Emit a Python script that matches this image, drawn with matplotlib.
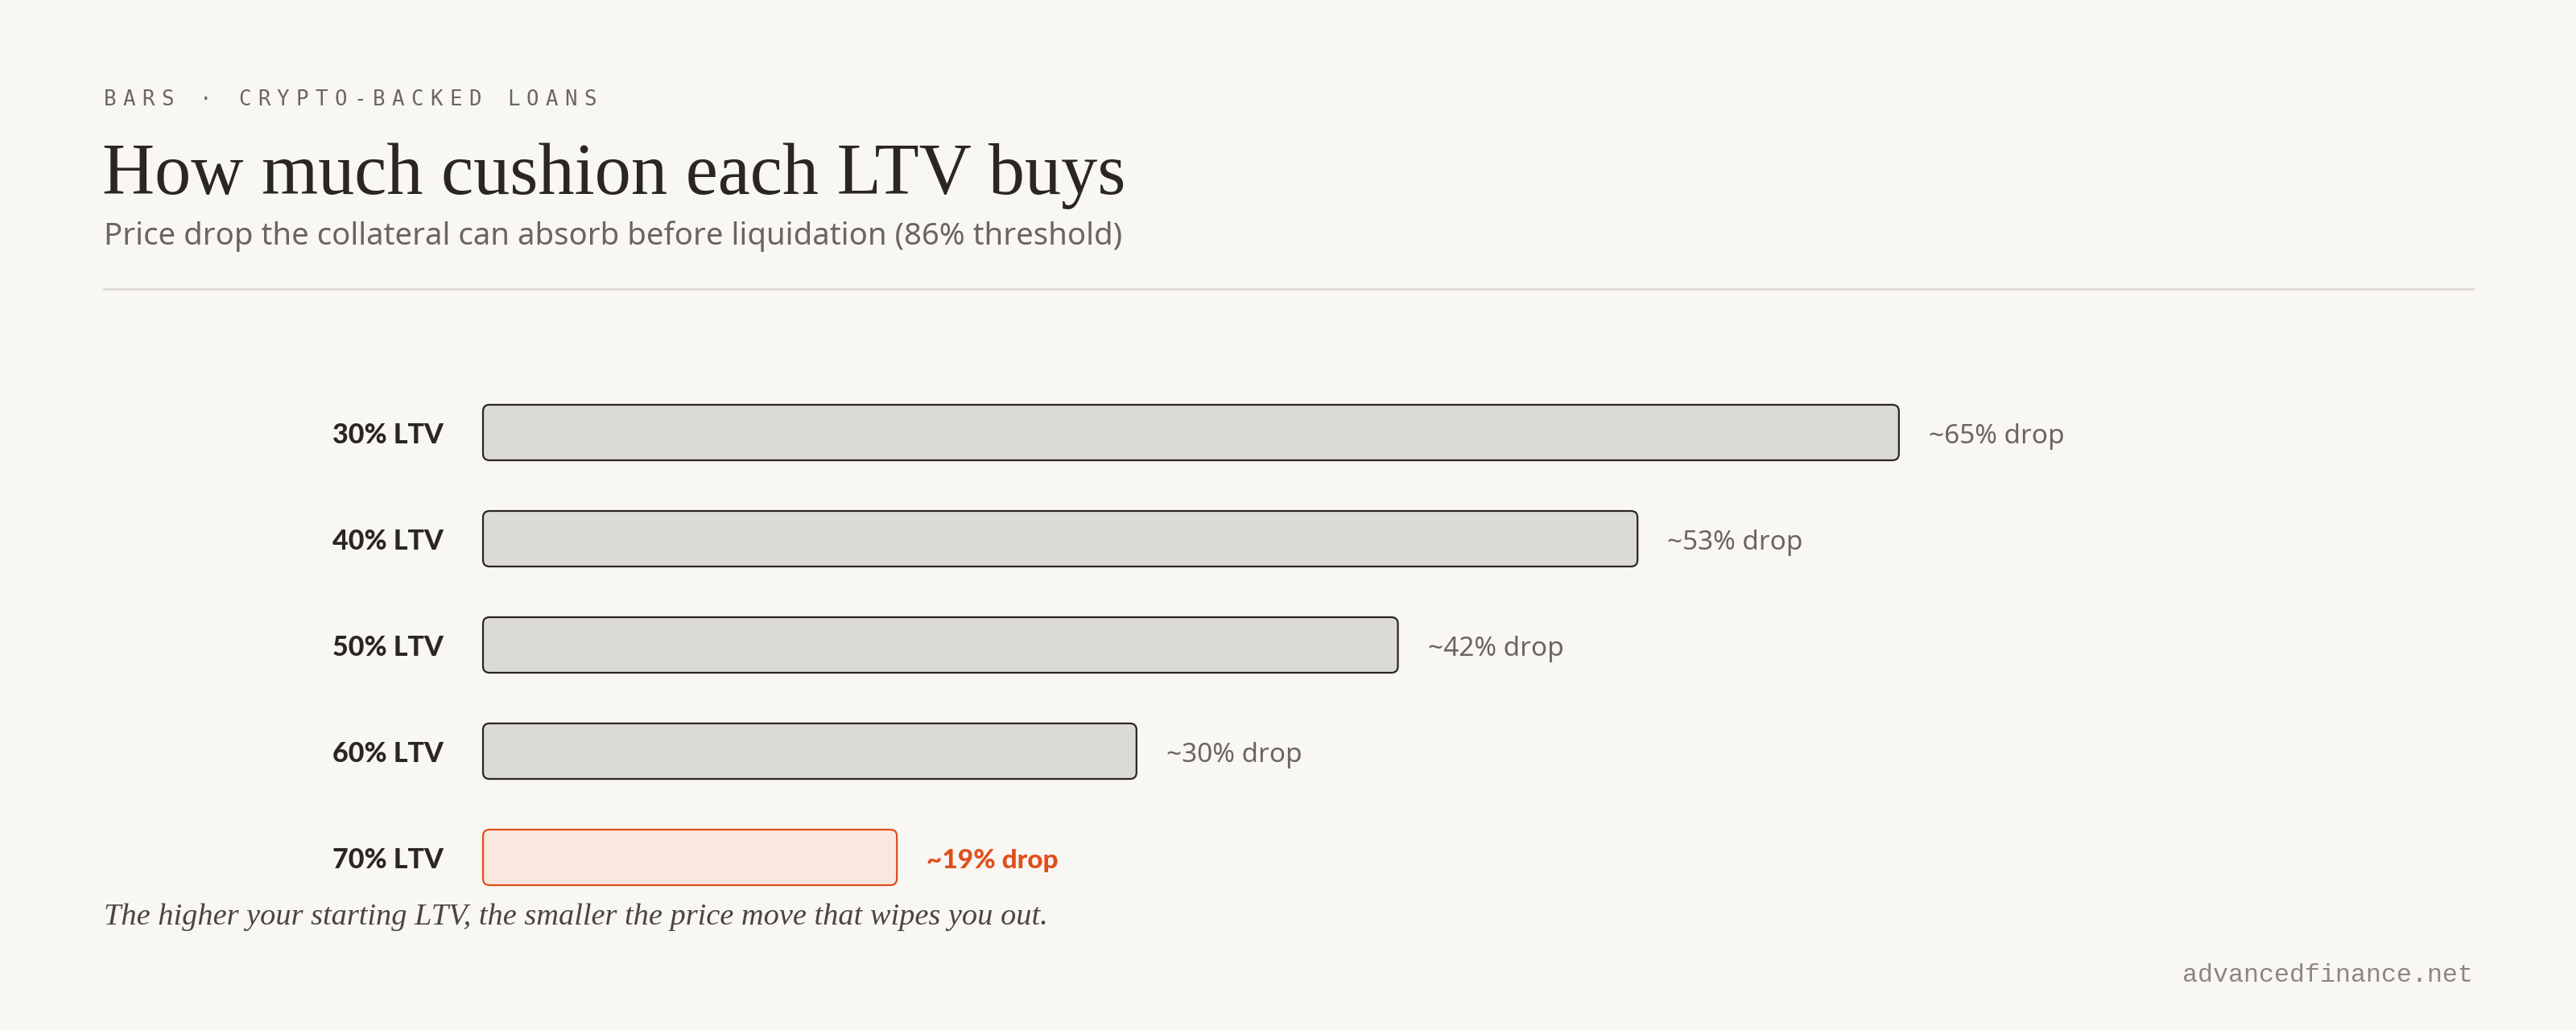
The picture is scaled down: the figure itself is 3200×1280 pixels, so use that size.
import matplotlib.pyplot as plt
from matplotlib.patches import FancyBboxPatch

# data
ltv_labels = ['30% LTV', '40% LTV', '50% LTV', '60% LTV', '70% LTV']
drops = [65, 53, 42, 30, 19]
drop_labels = ['~65% drop', '~53% drop', '~42% drop', '~30% drop', '~19% drop']
highlight = [False, False, False, False, True]

BG = '#f9f7f3'
INK = '#2a2622'
MUTED = '#6b6560'
FAINT = '#8c8680'
ACCENT = '#e04f1c'
SANS = ['Lato', 'DejaVu Sans']

W, H = 3200, 1280
fig = plt.figure(figsize=(32, 12.8), dpi=100, facecolor=BG)


def fx(x):
    return x / W


def fy(y):
    return 1 - y / H


# header
kicker = 'BARS · CRYPTO-BACKED LOANS'
for k, ch in enumerate(kicker):
    fig.text(fx(129 + k * 23.85), fy(131), ch, fontsize=18.5, color=MUTED,
             family='DejaVu Sans Mono', va='baseline', ha='left')
fig.text(fx(127), fy(241), 'How much cushion each LTV buys', fontsize=65,
         family='Liberation Serif', color=INK, va='baseline')
fig.text(fx(129), fy(304), 'Price drop the collateral can absorb before liquidation (86% threshold)',
         fontsize=27.6, family='Noto Sans', color=MUTED, va='baseline')
fig.add_artist(plt.Line2D([fx(129), fx(3072)], [fy(359), fy(359)], color='#dedad4', lw=2))

# bars
px_per_unit = 27.06
row = 132
ax_left, ax_w = 600, 2500
ax_top = 537.5 - row * 0.5
ax_h = row * 5
ax = fig.add_axes([fx(ax_left), fy(ax_top + ax_h), ax_w / W, ax_h / H])
ax.set_facecolor('none')
ax.set_xlim(0, ax_w / px_per_unit)
ax.set_ylim(len(drops) - 0.5, -0.5)
ax.axis('off')

bar_h = 69 / row
aspect = px_per_unit / row
for i, (v, hl) in enumerate(zip(drops, highlight)):
    face = '#fae8df' if hl else '#dcdad5'
    edge = ACCENT if hl else INK
    p = FancyBboxPatch((0, i - bar_h / 2), v, bar_h,
                       boxstyle='round,pad=0,rounding_size=0.3',
                       mutation_aspect=aspect, facecolor=face,
                       edgecolor=edge, lw=1.6, clip_on=False)
    ax.add_patch(p)
    ax.text(-49 / px_per_unit, i + 0.1, ltv_labels[i], ha='right', va='baseline',
            fontsize=24.5, fontweight='black', family=SANS, color=INK)
    ax.text(v + 37 / px_per_unit, i + 0.1, drop_labels[i], ha='left', va='baseline',
            fontsize=24, family='Noto Sans' if not hl else SANS,
            fontweight='black' if hl else 'normal',
            color=ACCENT if hl else MUTED)

# footer
fig.text(fx(129), fy(1149), 'The higher your starting LTV, the smaller the price move that wipes you out.',
         fontsize=27.6, family='Liberation Serif', style='italic', color='#4a4541', va='baseline')
fig.text(fx(3072), fy(1220), 'advancedfinance.net', fontsize=22.9, family='Liberation Mono',
         color=FAINT, ha='right', va='baseline')

fig.savefig('out.png', dpi=100, facecolor=BG)
